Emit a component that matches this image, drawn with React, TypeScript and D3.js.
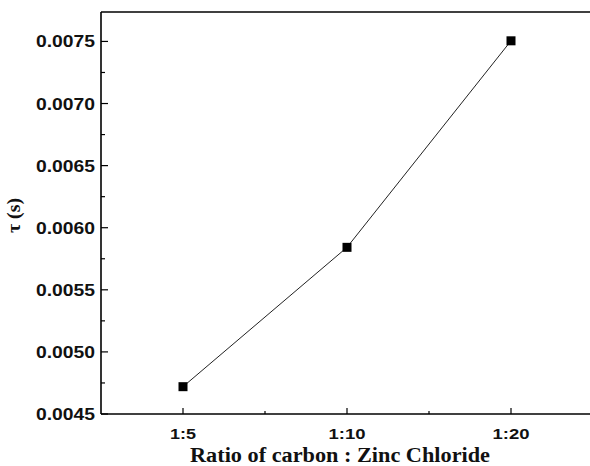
import React from "react";
import * as d3 from "d3";

const categories = ["1:5", "1:10", "1:20"];
const tauValues = [0.00472, 0.005842, 0.007505];
const yTicks = [0.0045, 0.005, 0.0055, 0.006, 0.0065, 0.007, 0.0075];
const yMinorTicks = [0.00475, 0.00525, 0.00575, 0.00625, 0.00675, 0.00725];
const xMinorTicks = [0.5, 1.5];

export default function App() {
  const W = 590, H = 466;
  const left = 101, top = 12, bottom = 414, right = 593;
  const x = d3.scaleLinear().domain([-0.5, 2.5]).range([left, right]);
  const y = d3.scaleLinear().domain([0.0045, 0.007737]).range([bottom, top]);
  const line = d3.line<number>().x((_, i) => x(i)).y((d) => y(d));
  const sans = "'Liberation Sans', Arial, sans-serif";
  const serif = "'Liberation Serif', 'Times New Roman', serif";
  return (
    <svg width={W} height={H} style={{ position: "absolute", left: 0, top: 0, background: "#fff" }}>
      <rect x={0} y={0} width={W} height={H} fill="#fff" />
      <path d={line(tauValues) || ""} fill="none" stroke="#222" strokeWidth={1} />
      {tauValues.map((v, i) => (
        <rect key={i} x={x(i) - 4.5} y={y(v) - 4.5} width={9} height={9} fill="#000" />
      ))}
      <line x1={left} y1={top} x2={right} y2={top} stroke="#000" strokeWidth={1.6} />
      <line x1={left} y1={top} x2={left} y2={bottom} stroke="#000" strokeWidth={1.6} />
      <line x1={left} y1={bottom} x2={right} y2={bottom} stroke="#000" strokeWidth={1.6} />
      {yTicks.map((t) => (
        <g key={t}>
          <line x1={left} x2={left + 7} y1={y(t)} y2={y(t)} stroke="#000" strokeWidth={1.2} />
          <text x={95} y={y(t) + 6} textAnchor="end" fontFamily={sans} fontWeight="bold" fontSize={16.5}
            textLength={59} lengthAdjust="spacingAndGlyphs" fill="#111">
            {t.toFixed(4)}
          </text>
        </g>
      ))}
      {yMinorTicks.map((t) => (
        <line key={t} x1={left} x2={left + 4} y1={y(t)} y2={y(t)} stroke="#000" strokeWidth={1.2} />
      ))}
      {categories.map((c) => {
        const i = categories.indexOf(c);
        return (
          <g key={c}>
            <line x1={x(i)} x2={x(i)} y1={bottom} y2={bottom - 6} stroke="#000" strokeWidth={1.2} />
            <text x={x(i)} y={439} textAnchor="middle" fontFamily={sans} fontWeight="bold" fontSize={15.5}
              textLength={c.length === 3 ? 26 : 37} lengthAdjust="spacingAndGlyphs" fill="#111">
              {c}
            </text>
          </g>
        );
      })}
      {xMinorTicks.map((t) => (
        <line key={t} x1={x(t)} x2={x(t)} y1={bottom} y2={bottom - 3} stroke="#000" strokeWidth={1.2} />
      ))}
      <text x={340} y={462} textAnchor="middle" fontFamily={serif} fontWeight="bold" fontSize={20}
        textLength={300} lengthAdjust="spacingAndGlyphs" fill="#111">
        Ratio of carbon : Zinc Chloride
      </text>
      <text transform={`translate(20,215.5) rotate(-90)`} textAnchor="middle" fontFamily={serif} fontWeight="bold" fontSize={19}
        textLength={35} lengthAdjust="spacingAndGlyphs" fill="#111">
        τ (s)
      </text>
    </svg>
  );
}
